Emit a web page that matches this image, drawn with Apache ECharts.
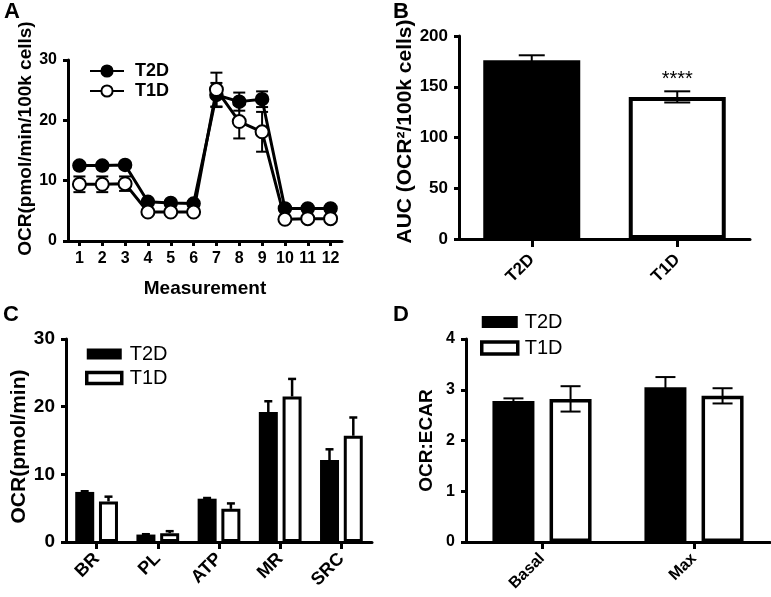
<!DOCTYPE html>
<html><head><meta charset="utf-8">
<script src="https://cdn.jsdelivr.net/npm/echarts@6/dist/echarts.min.js"></script>
<style>html,body{margin:0;padding:0;background:#fff}#c{width:771px;height:597px}</style>
</head><body><div id="c"></div>
<script>
// ---- Panel A data ----
const measurements = ['1','2','3','4','5','6','7','8','9','10','11','12'];
const aT2D    = [12.5,12.5,12.6,6.5,6.3,6.2,24.2,23.1,23.5,5.4,5.4,5.4];
const aT2DErr = [0.5,0.5,0.5,0.4,0.4,0.4,2.0,1.5,1.3,0.4,0.4,0.4];
const aT1D    = [9.4,9.4,9.5,4.8,4.8,4.8,25.1,19.8,18.1,3.6,3.7,3.7];
const aT1DErr = [1.3,1.3,1.2,0.4,0.4,0.4,2.8,2.8,3.3,0.4,0.4,0.4];
// ---- Panel B data ----
const bGroups = ['T2D','T1D'];
const bAUC    = [176,140];
const bErr    = [5,5.5];
// ---- Panel C data ----
const cParams = ['BR','PL','ATP','MR','SRC'];
const cT2D    = [7.4,1.1,6.4,19.2,12.1];
const cT2DErr = [0.1,0.05,0.1,1.6,1.6];
const cT1D    = [6.0,1.3,4.9,21.5,15.7];
const cT1DErr = [0.7,0.3,0.8,2.6,2.7];
// ---- Panel D data ----
const dConds  = ['Basal','Max'];
const dT2D    = [2.78,3.05];
const dT2DErr = [0.05,0.2];
const dT1D    = [2.82,2.88];
const dT1DErr = [0.25,0.15];

const FONT = 'Liberation Sans, Arial, sans-serif';
const tri = (v, e) => v.map((x, i) => [i, x, e[i]]);

function errSeries(idx, data, offset, cap, lw, upOnly, name) {
  return {
    type: 'custom', name: name, xAxisIndex: idx, yAxisIndex: idx, silent: true, z: 5,
    data: data,
    renderItem: function (params, api) {
      const i = api.value(0), v = api.value(1), e = api.value(2);
      const x = api.coord([i, v])[0] + offset;
      const yT = api.coord([i, v + e])[1];
      const yB = api.coord([i, upOnly ? v : v - e])[1];
      const st = { stroke: '#000', lineWidth: lw };
      const ch = [
        { type: 'line', shape: { x1: x, y1: yT, x2: x, y2: yB }, style: st },
        { type: 'line', shape: { x1: x - cap, y1: yT, x2: x + cap, y2: yT }, style: st }
      ];
      if (!upOnly) ch.push({ type: 'line', shape: { x1: x - cap, y1: yB, x2: x + cap, y2: yB }, style: st });
      return { type: 'group', children: ch };
    }
  };
}

const axisLine = { show: true, lineStyle: { color: '#000', width: 3 } };
const axisTick = (len) => ({ show: true, length: len, lineStyle: { color: '#000', width: 3 } });
const lbl = (size, extra) => Object.assign({ color: '#000', fontFamily: FONT, fontWeight: 'bold', fontSize: size }, extra || {});

function yAx(idx, max, interval, name, gap, pad, tickSize, nameSize) {
  return {
    type: 'value', gridIndex: idx, min: 0, max: max, interval: interval,
    axisLine: axisLine, axisTick: axisTick(5), splitLine: { show: false },
    axisLabel: lbl(tickSize, { margin: 11 }),
    name: name, nameLocation: 'middle', nameRotate: 90, nameGap: gap,
    nameTextStyle: lbl(nameSize, { padding: pad })
  };
}
const plainText = (size, pad) => ({ color: '#000', fontFamily: FONT, fontSize: size, padding: pad });

const option = {
  animation: false,
  backgroundColor: '#fff',
  title: [
    { text: 'A', left: 4, top: 1, padding: 0, textStyle: lbl(22) },
    { text: 'B', left: 393, top: 1, padding: 0, textStyle: lbl(22) },
    { text: 'C', left: 3, top: 304, padding: 0, textStyle: lbl(22) },
    { text: 'D', left: 393, top: 304, padding: 0, textStyle: lbl(22) }
  ],
  grid: [
    { left: 68, top: 60, width: 274, height: 181 },
    { left: 459, top: 36, width: 291, height: 203 },
    { left: 66, top: 339, width: 306, height: 203 },
    { left: 466, top: 339, width: 304, height: 203 }
  ],
  legend: [
    { data: ['aT2D', 'aT1D'], left: 84, top: 57, orient: 'vertical', itemWidth: 34, itemHeight: 14, itemGap: 2,
      formatter: n => n.slice(1), textStyle: lbl(18, { padding: [0, 0, 0, 6] }) },
    { data: [{ name: 'cT2D' }, { name: 'cT1D', itemStyle: { borderWidth: 3.5 } }],
      left: 80, top: 339, orient: 'vertical', icon: 'rect', itemWidth: 35, itemHeight: 11, itemGap: 4,
      formatter: n => n.slice(1), textStyle: plainText(20, [0, 0, 0, 3]) },
    { data: [{ name: 'dT2D' }, { name: 'dT1D', itemStyle: { borderWidth: 3.5 } }],
      left: 475, top: 307, orient: 'vertical', icon: 'rect', itemWidth: 36, itemHeight: 12, itemGap: 6,
      formatter: n => n.slice(1), textStyle: plainText(20, [0, 0, 0, 2]) }
  ],
  xAxis: [
    { type: 'category', gridIndex: 0, data: measurements, axisLine: axisLine,
      axisTick: Object.assign(axisTick(5), { alignWithLabel: true }),
      axisLabel: lbl(16, { margin: 10, interval: 0 }),
      name: 'Measurement', nameLocation: 'middle', nameGap: 38, nameTextStyle: lbl(19) },
    { type: 'category', gridIndex: 1, data: bGroups, axisLine: axisLine,
      axisTick: Object.assign(axisTick(8), { alignWithLabel: true }),
      axisLabel: lbl(17, { rotate: 45, margin: 18, interval: 0 }) },
    { type: 'category', gridIndex: 2, data: cParams, axisLine: axisLine,
      axisTick: Object.assign(axisTick(7), { alignWithLabel: true }),
      axisLabel: lbl(18, { rotate: 45, margin: 14, interval: 0 }) },
    { type: 'category', gridIndex: 3, data: dConds, axisLine: axisLine,
      axisTick: Object.assign(axisTick(7), { alignWithLabel: true }),
      axisLabel: lbl(16, { rotate: 45, margin: 14, interval: 0 }) }
  ],
  yAxis: [
    yAx(0, 30, 10, 'OCR(pmol/min/100k cells)', 33, [0, 0, 0, 24], 16, 19),
    yAx(1, 200, 50, 'AUC (OCR²/100k cells)', 31, [0, 0, 0, 12], 17, 21),
    yAx(2, 30, 10, 'OCR(pmol/min)', 31, [0, 12, 0, 0], 19, 21),
    yAx(3, 4, 1, 'OCR:ECAR', 30, [0, 0, 0, 0], 16, 19)
  ],
  series: [
    // Panel A
    errSeries(0, tri(aT2D, aT2DErr), 0, 6, 2, false, 'aT2Derr'),
    errSeries(0, tri(aT1D, aT1DErr), 0, 6, 2, false, 'aT1Derr'),
    { type: 'line', name: 'aT2D', xAxisIndex: 0, yAxisIndex: 0, data: aT2D, z: 6,
      symbol: 'circle', symbolSize: 13, lineStyle: { color: '#000', width: 3 },
      itemStyle: { color: '#000', borderColor: '#000', borderWidth: 1.5 } },
    { type: 'line', name: 'aT1D', xAxisIndex: 0, yAxisIndex: 0, data: aT1D, z: 7,
      symbol: 'circle', symbolSize: 13, showAllSymbol: true, lineStyle: { color: '#000', width: 3 },
      itemStyle: { color: '#fff', borderColor: '#000', borderWidth: 2 } },
    // Panel B
    { type: 'bar', name: 'bAUC', xAxisIndex: 1, yAxisIndex: 1, barWidth: 97, z: 3,
      data: bAUC.map((v, i) => i === 0
        ? { value: v, itemStyle: { color: '#000' } }
        : { value: v, itemStyle: { color: '#fff', borderColor: '#000', borderWidth: 4 },
            label: { show: true, position: 'top', distance: 7, formatter: '****',
                     color: '#000', fontFamily: FONT, fontSize: 20 } }) },
    errSeries(1, tri(bAUC, bErr), 0, 13, 2, false, 'bErr'),
    // Panel C
    { type: 'bar', name: 'cT2D', xAxisIndex: 2, yAxisIndex: 2, data: cT2D, barWidth: 19, barGap: '25%',
      itemStyle: { color: '#000' } },
    { type: 'bar', name: 'cT1D', xAxisIndex: 2, yAxisIndex: 2, data: cT1D, barWidth: 19, barGap: '25%',
      itemStyle: { color: '#fff', borderColor: '#000', borderWidth: 3 } },
    errSeries(2, tri(cT2D, cT2DErr), -11.9, 4, 2.5, true, 'cT2Derr'),
    errSeries(2, tri(cT1D, cT1DErr), 11.9, 4, 2.5, true, 'cT1Derr'),
    // Panel D
    { type: 'bar', name: 'dT2D', xAxisIndex: 3, yAxisIndex: 3, data: dT2D, barWidth: 42, barGap: '36%',
      itemStyle: { color: '#000' } },
    { type: 'bar', name: 'dT1D', xAxisIndex: 3, yAxisIndex: 3, data: dT1D, barWidth: 42, barGap: '36%',
      itemStyle: { color: '#fff', borderColor: '#000', borderWidth: 3.5 } },
    errSeries(3, tri(dT2D, dT2DErr), -28.56, 10, 2, false, 'dT2Derr'),
    errSeries(3, tri(dT1D, dT1DErr), 28.56, 10, 2, false, 'dT1Derr')
  ]
};
const chart = echarts.init(document.getElementById('c'), null, { renderer: 'canvas' });
chart.setOption(option);
</script></body></html>
